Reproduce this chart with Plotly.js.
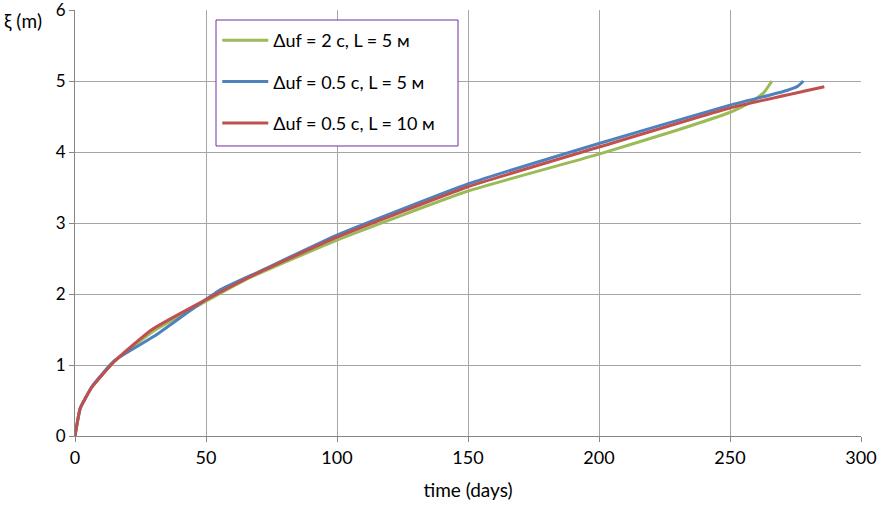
<!DOCTYPE html>
<html>
<head>
<meta charset="utf-8">
<script src="https://cdn.plot.ly/plotly-3.0.1.min.js"></script>
<style>html,body{margin:0;padding:0;background:#fff;}#chart{width:883px;height:506px;}</style>
</head>
<body>
<div id="chart"></div>
<script>
// Series: Δuf = 2 с, L = 5 м
const timeGreen = [0, 2, 6.5, 15, 30, 50, 65, 100, 150, 200, 230, 250, 258, 263, 266];
const xiGreen   = [0, 0.39, 0.69, 1.05, 1.48, 1.9, 2.2, 2.76, 3.45, 3.97, 4.31, 4.56, 4.7, 4.84, 5.0];
// Series: Δuf = 0.5 с, L = 5 м
const timeBlue = [0, 2, 6.5, 15, 30, 55, 70, 100, 150, 200, 250, 265, 272, 276, 278];
const xiBlue   = [0, 0.39, 0.7, 1.06, 1.4, 2.05, 2.31, 2.83, 3.55, 4.12, 4.66, 4.8, 4.87, 4.93, 5.0];
// Series: Δuf = 0.5 с, L = 10 м
const timeRed = [0, 2, 6.5, 15, 29, 50, 70, 100, 150, 200, 250, 286];
const xiRed   = [0, 0.39, 0.69, 1.05, 1.49, 1.92, 2.3, 2.8, 3.51, 4.07, 4.62, 4.92];

const names = ["Δuf = 2 с, L = 5 м", "Δuf = 0.5 с, L = 5 м", "Δuf = 0.5 с, L = 10 м"];
const xTicks = [0, 50, 100, 150, 200, 250, 300];
const yTicks = [0, 1, 2, 3, 4, 5, 6];

const font = "Lato, 'Open Sans', sans-serif";
const traces = [
  {x: timeGreen, y: xiGreen, name: names[0], color: "#9BBB59", g: "a"},
  {x: timeBlue, y: xiBlue, name: names[1], color: "#4F81BD", g: "b"},
  {x: timeRed, y: xiRed, name: names[2], color: "#C0504D", g: "c"}
].map(s => ({
  x: s.x, y: s.y, name: s.name, type: "scatter", mode: "lines",
  legendgroup: s.g,
  line: {color: s.color, width: 3, shape: "spline", smoothing: 0.4}
}));

const layout = {
  width: 883, height: 506,
  margin: {l: 75, r: 22, t: 10, b: 70},
  paper_bgcolor: "#fff", plot_bgcolor: "#fff",
  font: {family: font, size: 18, color: "#000"},
  showlegend: true,
  legend: {
    x: 0.181, y: 0.972, xanchor: "left", yanchor: "top",
    borderwidth: 0, bgcolor: "rgba(0,0,0,0)",
    font: {family: font, size: 18, color: "#000"},
    traceorder: "grouped", tracegroupgap: 15,
    itemwidth: 46
  },
  shapes: [{
    type: "rect", xref: "paper", yref: "paper",
    x0: 0.1794, x1: 0.4873, y0: 0.6808, y1: 0.9765,
    line: {color: "#7030A0", width: 1}, fillcolor: "#fff", layer: "above"
  }],
  xaxis: {
    range: [0, 300], tickvals: xTicks, ticktext: xTicks.map(String),
    showgrid: true, gridcolor: "#A6A6A6", gridwidth: 1,
    showline: true, linecolor: "#868686", linewidth: 1,
    ticks: "outside", ticklen: 5, tickcolor: "#868686",
    zeroline: false, tickfont: {size: 18},
    title: {text: "time (days)", font: {size: 19}, standoff: 17},
    fixedrange: true
  },
  yaxis: {
    range: [0, 6], tickvals: yTicks, ticktext: yTicks.map(String),
    showgrid: true, gridcolor: "#A6A6A6", gridwidth: 1,
    showline: true, linecolor: "#868686", linewidth: 1,
    ticks: "outside", ticklen: 5, tickcolor: "#868686",
    zeroline: false, tickfont: {size: 17},
    ticklabeloverflow: "allow", automargin: false,
    fixedrange: true
  },
  annotations: [{
    text: "ξ (m)", xref: "paper", yref: "paper", x: -0.093, y: 0.975,
    xanchor: "left", yanchor: "middle", showarrow: false,
    font: {family: font, size: 19, color: "#000"}
  }]
};

Plotly.newPlot("chart", traces, layout, {displayModeBar: false, staticPlot: true});
</script>
</body>
</html>
